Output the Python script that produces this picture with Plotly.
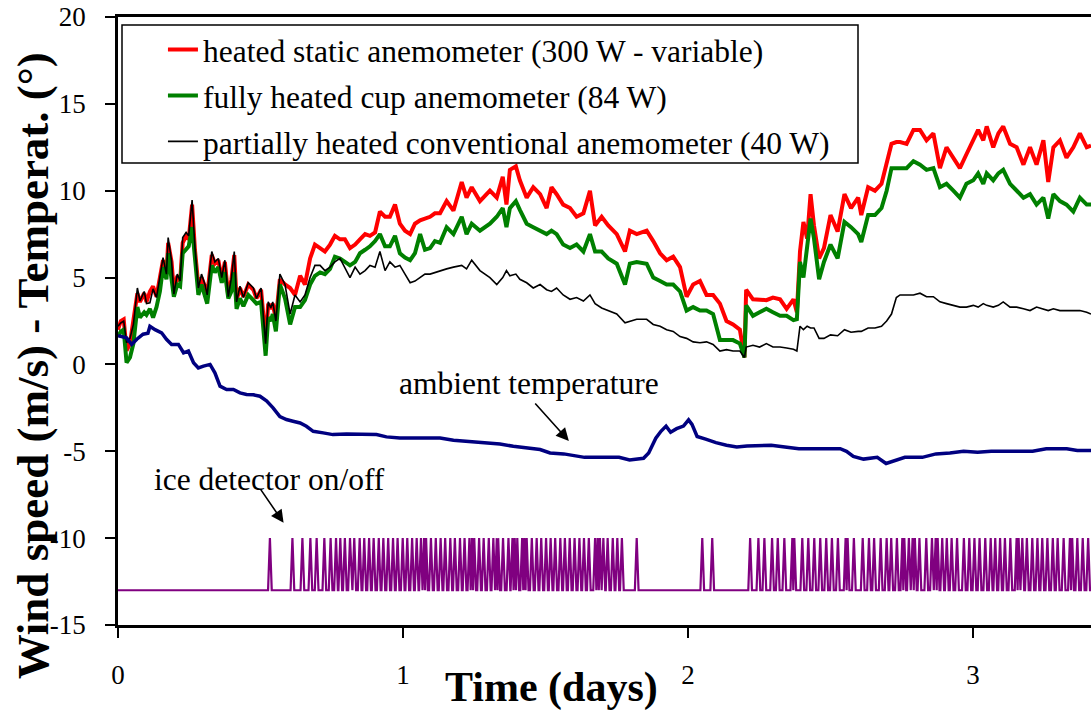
import plotly.graph_objects as go

# ---------------- data ----------------
t_wind = [0.000, 0.010, 0.020, 0.030, 0.042, 0.054, 0.068, 0.077, 0.092, 0.100,
          0.112, 0.123, 0.135, 0.147, 0.158, 0.170, 0.176, 0.188, 0.196, 0.208,
          0.218, 0.227, 0.239, 0.248, 0.260, 0.270, 0.282, 0.293, 0.305, 0.313,
          0.329, 0.340, 0.352, 0.364, 0.375, 0.387, 0.398, 0.408, 0.416, 0.428,
          0.440, 0.457, 0.475, 0.486, 0.502, 0.510, 0.518, 0.527, 0.536, 0.543,
          0.554, 0.568, 0.586, 0.604, 0.621, 0.639, 0.656, 0.674, 0.691, 0.709,
          0.726, 0.744, 0.761, 0.779, 0.796, 0.814, 0.832, 0.849, 0.867, 0.884,
          0.902, 0.919, 0.937, 0.954, 0.972, 0.989, 1.007, 1.025, 1.042, 1.060,
          1.077, 1.095, 1.112, 1.130, 1.153, 1.177, 1.206, 1.223, 1.241, 1.270,
          1.305, 1.329, 1.350, 1.363, 1.375, 1.396, 1.410, 1.434, 1.457, 1.481,
          1.504, 1.521, 1.539, 1.562, 1.586, 1.609, 1.633, 1.656, 1.674, 1.697,
          1.720, 1.750, 1.779, 1.796, 1.820, 1.855, 1.878, 1.902, 1.925, 1.948,
          1.972, 1.995, 2.018, 2.042, 2.065, 2.088, 2.112, 2.135, 2.158, 2.182,
          2.198, 2.204, 2.228, 2.251, 2.275, 2.298, 2.323, 2.346, 2.370, 2.382,
          2.393, 2.405, 2.418, 2.430, 2.442, 2.460, 2.477, 2.500, 2.525, 2.549,
          2.572, 2.597, 2.608, 2.632, 2.656, 2.679, 2.697, 2.714, 2.731, 2.744,
          2.767, 2.791, 2.814, 2.837, 2.861, 2.884, 2.907, 2.931, 2.954, 2.977,
          3.001, 3.018, 3.036, 3.048, 3.071, 3.089, 3.106, 3.130, 3.153, 3.177,
          3.200, 3.223, 3.247, 3.264, 3.282, 3.305, 3.328, 3.352, 3.375, 3.399,
          3.414]

static_300w = [2.0, 2.5, 2.6, 0.8, 1.2, 2.4, 4.1, 3.6, 4.1, 3.6,
               4.2, 4.5, 3.9, 5.0, 6.0, 5.2, 7.0, 5.9, 4.2, 5.1,
               4.8, 7.0, 7.4, 7.2, 9.2, 6.6, 4.5, 5.0, 4.5, 4.0,
               6.3, 5.8, 6.0, 4.9, 5.9, 3.9, 4.9, 6.3, 3.7, 4.4,
               3.9, 4.6, 4.3, 3.8, 4.3, 2.8, 1.3, 3.5, 3.2, 3.5,
               2.6, 4.9, 4.6, 4.4, 4.0, 5.1, 4.6, 6.1, 6.9, 6.7,
               6.5, 6.9, 7.4, 7.2, 7.2, 6.7, 6.9, 7.2, 7.5, 7.4,
               7.6, 8.8, 8.5, 8.5, 9.2, 8.1, 7.7, 7.5, 8.1, 8.3,
               8.4, 8.5, 8.7, 8.7, 9.4, 8.85, 10.5, 9.6, 10.2, 9.4,
               10.0, 9.6, 10.8, 9.2, 11.2, 11.4, 10.6, 9.6, 10.2, 9.8,
               9.0, 10.2, 9.8, 9.2, 9.0, 8.5, 8.7, 10.0, 8.0, 8.5,
               8.0, 7.5, 6.5, 7.7, 7.5, 7.7, 7.1, 6.4, 6.0, 6.2,
               5.6, 3.9, 4.6, 4.8, 4.0, 4.0, 3.5, 2.5, 2.3, 2.0,
               0.4, 4.3, 3.75, 3.75, 3.7, 3.85, 3.75, 3.2, 3.75, 3.0,
               6.5, 8.2, 7.25, 9.8, 8.0, 6.1, 6.7, 8.6, 7.65, 9.8,
               9.0, 9.6, 8.6, 10.2, 10.0, 10.4, 11.7, 12.7, 12.8, 12.8,
               12.7, 13.5, 13.5, 12.9, 13.3, 11.3, 12.5, 11.9, 11.3, 12.1,
               12.9, 13.5, 12.9, 13.7, 12.5, 13.3, 13.7, 12.7, 12.5, 11.5,
               12.5, 11.5, 12.9, 10.5, 12.5, 12.9, 11.9, 12.5, 13.3, 12.5,
               12.6]

cup_84w = [1.6, 1.9, 2.0, 0.1, 0.4, 1.2, 3.3, 2.7, 3.0, 2.85,
           3.2, 2.7, 3.3, 4.2, 5.6, 4.9, 6.4, 5.0, 3.9, 4.6,
           4.5, 6.4, 6.6, 6.8, 7.9, 6.0, 4.0, 4.6, 3.8, 3.5,
           5.7, 5.3, 5.6, 4.7, 5.3, 3.8, 4.2, 5.3, 3.2, 3.8,
           3.35, 4.0, 3.7, 3.5, 3.6, 2.3, 0.5, 2.7, 2.5, 2.9,
           1.9, 4.6, 3.8, 2.3, 3.3, 3.3, 3.7, 4.6, 5.1, 5.3,
           5.2, 5.5, 6.2, 6.1, 5.9, 5.7, 5.9, 6.4, 6.6, 6.8,
           7.1, 7.5, 6.8, 6.8, 7.4, 6.4, 6.15, 6.0, 6.4, 7.5,
           6.6, 6.7, 7.1, 7.0, 7.9, 7.5, 8.5, 7.5, 8.1, 7.7,
           8.1, 8.5, 9.0, 7.9, 9.0, 9.4, 8.9, 8.1, 7.9, 7.7,
           7.5, 7.7, 7.5, 6.9, 6.7, 6.9, 6.5, 7.5, 6.5, 6.5,
           6.1, 5.8, 4.6, 5.8, 5.9, 5.8, 5.0, 4.8, 4.6, 4.6,
           4.2, 3.1, 3.3, 3.1, 3.1, 2.9, 1.4, 1.4, 1.4, 1.2,
           0.4, 3.4, 2.8, 3.0, 3.2, 3.0, 2.8, 2.8, 2.55, 2.6,
           5.9, 5.0, 6.7, 8.4, 7.25, 4.9, 5.9, 6.9, 6.1, 8.2,
           7.9, 7.5, 7.05, 8.6, 8.6, 9.0, 10.0, 11.3, 11.3, 11.3,
           11.3, 11.7, 11.5, 11.2, 11.3, 10.2, 10.4, 10.0, 9.6, 10.4,
           10.6, 11.0, 10.4, 11.0, 10.6, 11.0, 11.2, 10.4, 10.0, 9.6,
           9.8, 9.2, 9.6, 8.4, 9.8, 9.4, 9.2, 8.8, 9.6, 9.2,
           9.2]

conventional_40w = [2.2, 2.4, 2.5, 1.25, 1.5, 2.3, 4.4, 3.65, 4.2, 3.5,
                    3.55, 4.35, 3.85, 5.0, 6.15, 5.2, 7.3, 5.96, 4.05, 5.2,
                    4.8, 7.3, 7.6, 7.4, 9.46, 6.7, 4.4, 5.2, 4.6, 4.0,
                    6.5, 5.9, 6.1, 5.0, 6.0, 3.9, 5.0, 6.5, 3.6, 4.5,
                    3.85, 4.7, 4.4, 3.8, 4.4, 2.8, 1.2, 3.6, 3.25, 3.6,
                    2.5, 5.2, 4.6, 2.9, 4.0, 3.6, 4.0, 5.0, 5.7, 5.7,
                    5.4, 5.6, 5.9, 6.1, 5.6, 5.0, 5.6, 5.2, 5.4, 5.7,
                    5.6, 6.5, 5.4, 5.9, 5.6, 5.7, 5.2, 4.7, 4.8, 5.0,
                    5.2, 5.2, 5.3, 5.4, 5.5, 5.6, 5.7, 5.5, 6.0, 5.4,
                    5.0, 4.6, 5.0, 5.4, 5.1, 5.2, 4.9, 4.7, 4.4, 4.6,
                    4.3, 4.2, 4.4, 4.0, 3.75, 3.85, 3.65, 4.0, 3.5, 3.25,
                    3.1, 2.9, 2.4, 2.5, 2.6, 2.6, 2.3, 2.2, 2.0, 1.9,
                    1.6, 1.5, 1.3, 1.25, 1.3, 1.15, 0.77, 0.85, 0.77, 0.77,
                    0.4, 1.0, 1.1, 1.0, 1.2, 1.0, 1.0, 0.95, 0.87, 0.77,
                    2.2, 2.0, 2.2, 2.1, 2.1, 1.5, 1.5, 1.7, 1.65, 2.0,
                    1.85, 1.9, 1.9, 2.1, 2.1, 2.2, 2.5, 2.9, 3.85, 4.0,
                    4.0, 4.0, 4.1, 3.9, 3.9, 3.6, 3.5, 3.4, 3.3, 3.3,
                    3.4, 3.3, 3.5, 3.4, 3.3, 3.4, 3.6, 3.3, 3.3, 3.2,
                    3.1, 3.3, 3.2, 3.1, 3.2, 3.1, 3.1, 3.1, 3.1, 3.0,
                    2.9]

t_temp = [0.000, 0.007, 0.030, 0.048, 0.066, 0.088, 0.105, 0.112, 0.130, 0.153,
          0.170, 0.188, 0.212, 0.230, 0.247, 0.265, 0.282, 0.300, 0.323, 0.340,
          0.358, 0.381, 0.405, 0.428, 0.451, 0.475, 0.498, 0.521, 0.544, 0.568,
          0.591, 0.614, 0.639, 0.661, 0.685, 0.720, 0.754, 0.802, 0.872, 0.907,
          0.942, 0.989, 1.048, 1.130, 1.177, 1.223, 1.282, 1.340, 1.387, 1.434,
          1.481, 1.516, 1.564, 1.637, 1.697, 1.758, 1.795, 1.844, 1.862, 1.887,
          1.905, 1.923, 1.939, 1.960, 1.984, 2.002, 2.014, 2.032, 2.062, 2.098,
          2.135, 2.171, 2.207, 2.243, 2.292, 2.340, 2.389, 2.462, 2.534, 2.556,
          2.580, 2.616, 2.664, 2.695, 2.725, 2.761, 2.822, 2.870, 2.919, 2.967,
          3.016, 3.064, 3.124, 3.209, 3.257, 3.329, 3.366, 3.414]

ambient_temp = [1.65, 1.63, 1.53, 1.15, 1.45, 1.74, 1.8, 2.2, 2.0, 1.82,
                1.45, 1.15, 1.15, 0.67, 0.77, 0.1, -0.2, -0.1, 0.0, -0.48,
                -1.25, -1.44, -1.44, -1.64, -1.73, -1.75, -1.83, -2.1, -2.5, -3.0,
                -3.17, -3.27, -3.37, -3.56, -3.85, -3.94, -4.04, -4.0, -4.04, -4.04,
                -4.17, -4.23, -4.23, -4.23, -4.37, -4.42, -4.52, -4.58, -4.71, -4.81,
                -4.9, -5.1, -5.15, -5.35, -5.35, -5.35, -5.5, -5.4, -5.1, -4.25,
                -3.85, -3.55, -3.9, -3.7, -3.55, -3.19, -3.45, -4.15, -4.3, -4.5,
                -4.65, -4.75, -4.7, -4.68, -4.65, -4.75, -4.85, -4.85, -4.85, -5.0,
                -5.3, -5.45, -5.35, -5.7, -5.55, -5.35, -5.35, -5.15, -5.1, -5.0,
                -5.05, -5.0, -5.0, -5.0, -4.85, -4.85, -4.95, -4.95]

ice_on_times = [0.533, 0.612, 0.647, 0.675, 0.697, 0.724, 0.746, 0.765, 0.780, 0.796,
                0.814, 0.829, 0.848, 0.864, 0.881, 0.897, 0.915, 0.931, 0.948, 0.965,
                0.981, 0.999, 1.015, 1.032, 1.048, 1.063, 1.074, 1.081, 1.098, 1.115,
                1.132, 1.148, 1.166, 1.182, 1.200, 1.216, 1.233, 1.242, 1.250, 1.267,
                1.283, 1.301, 1.317, 1.329, 1.334, 1.351, 1.370, 1.384, 1.392, 1.401,
                1.418, 1.426, 1.434, 1.452, 1.469, 1.485, 1.502, 1.518, 1.534, 1.552,
                1.568, 1.585, 1.602, 1.619, 1.635, 1.652, 1.674, 1.683, 1.691, 1.703,
                1.718, 1.736, 1.752, 1.768, 1.820,
                2.050, 2.085,
                2.218, 2.247, 2.268, 2.295, 2.315, 2.338, 2.366, 2.373, 2.401, 2.422,
                2.443, 2.464, 2.485, 2.505, 2.526, 2.553, 2.560, 2.582, 2.613, 2.635,
                2.653, 2.676, 2.697, 2.713, 2.733, 2.752, 2.759, 2.775, 2.788, 2.796,
                2.812, 2.836, 2.856, 2.869, 2.876, 2.892, 2.908, 2.925, 2.944, 2.968,
                2.987, 3.005, 3.023, 3.043, 3.062, 3.078, 3.095, 3.112, 3.131, 3.153,
                3.160, 3.173, 3.189, 3.208, 3.226, 3.243, 3.261, 3.280, 3.297, 3.318,
                3.340, 3.348, 3.366, 3.385, 3.404]
ice_off_level = -13
ice_on_level = -10
ice_pulse_halfwidth = 0.0065   # one 10-min sample either side

x_tick_vals = [0, 1, 2, 3]
y_tick_vals = [20, 15, 10, 5, 0, -5, -10, -15]
x_range = [0, 3.414]
y_range = [-15, 20]

legend_names = ["heated static anemometer (300 W - variable)",
                "fully heated cup anemometer (84 W)",
                "partially heated conventional anemometer (40 W)"]

# ---------------- build ice detector on/off series ----------------
ice_x = [x_range[0]]
ice_y = [ice_off_level]
n = len(ice_on_times)
for i, t in enumerate(ice_on_times):
    prev_t = ice_on_times[i - 1] if i > 0 else None
    next_t = ice_on_times[i + 1] if i + 1 < n else None
    if prev_t is None or t - prev_t >= 2 * ice_pulse_halfwidth:
        ice_x.append(t - ice_pulse_halfwidth)
        ice_y.append(ice_off_level)
    ice_x.append(t)
    ice_y.append(ice_on_level)
    if next_t is None or next_t - t >= 2 * ice_pulse_halfwidth:
        ice_x.append(t + ice_pulse_halfwidth)
        ice_y.append(ice_off_level)
    else:
        ice_x.append((t + next_t) / 2)
        ice_y.append(ice_off_level)
ice_x.append(x_range[1])
ice_y.append(ice_off_level)

SERIF = "Liberation Serif, Times New Roman, serif"

fig = go.Figure()
fig.add_trace(go.Scatter(x=t_wind, y=static_300w, mode="lines", name=legend_names[0],
                         line=dict(color="#FF0000", width=4), legendgroup="a"))
fig.add_trace(go.Scatter(x=t_wind, y=cup_84w, mode="lines", name=legend_names[1],
                         line=dict(color="#008000", width=4), legendgroup="b"))
fig.add_trace(go.Scatter(x=t_wind, y=conventional_40w, mode="lines", name=legend_names[2],
                         line=dict(color="#000000", width=1.6), legendgroup="c"))
fig.add_trace(go.Scatter(x=t_temp, y=ambient_temp, mode="lines", name="ambient temperature",
                         line=dict(color="#000080", width=3.5), showlegend=False))
fig.add_trace(go.Scatter(x=ice_x, y=ice_y, mode="lines", name="ice detector on/off",
                         line=dict(color="#800080", width=2.2), showlegend=False))

# helper axis for the inner half of the crossing x ticks
fig.update_layout(
    xaxis2=dict(overlaying="x", anchor="y", side="bottom", range=x_range,
                tickmode="array", tickvals=x_tick_vals, ticks="inside", ticklen=10,
                tickwidth=1.5, tickcolor="black", showticklabels=False,
                showline=False, showgrid=False, zeroline=False),
)

fig.update_layout(
    width=1091, height=711,
    margin=dict(l=118, r=0, t=17, b=86),
    paper_bgcolor="white", plot_bgcolor="white",
    font=dict(family=SERIF, color="black", size=26),
    showlegend=True,
    legend=dict(x=0.0462, y=0.991, xanchor="left", yanchor="top",
                bgcolor="rgba(0,0,0,0)", borderwidth=0,
                font=dict(family=SERIF, size=31.5, color="black"),
                tracegroupgap=2, itemwidth=30),
    xaxis=dict(range=x_range, tickmode="array", tickvals=x_tick_vals,
               ticktext=[str(v) for v in x_tick_vals],
               ticks="outside", ticklen=10, tickwidth=1.5, tickcolor="black",
               showline=True, linewidth=2.5, linecolor="black", mirror=True,
               showgrid=False, zeroline=False,
               tickfont=dict(family=SERIF, size=27, color="black"),
               ticklabelstandoff=14),
    yaxis=dict(range=y_range, tickmode="array", tickvals=y_tick_vals,
               ticktext=[str(v) for v in y_tick_vals],
               ticks="outside", ticklen=10, tickwidth=1.5, tickcolor="black",
               showline=True, linewidth=2.5, linecolor="black",
               showgrid=False, zeroline=False,
               tickfont=dict(family=SERIF, size=27, color="black"),
               ticklabelstandoff=14),
    shapes=[dict(type="rect", xref="paper", yref="paper",
                 x0=(122 - 118) / 973, x1=(858 - 118) / 973,
                 y0=(625 - 163) / 608, y1=(625 - 25) / 608,
                 line=dict(color="black", width=1.5), fillcolor="white", layer="above")],
    annotations=[
        dict(text="<b>Wind speed (m/s) - Temperat. (°)</b>", xref="paper", yref="paper",
             x=-0.0874, y=0.427, xanchor="center", yanchor="middle", textangle=-90,
             showarrow=False, font=dict(family=SERIF, size=45, color="black")),
        dict(text="<b>Time (days)</b>", xref="paper", yref="paper",
             x=0.446, y=-0.1036, xanchor="center", yanchor="middle",
             showarrow=False, font=dict(family=SERIF, size=42, color="black")),
        dict(text="ambient temperature", xref="x", yref="y", x=0.978, y=-1.07,
             xanchor="left", yanchor="middle", showarrow=False,
             font=dict(family=SERIF, size=31.5, color="black")),
        dict(text="", xref="x", yref="y", x=1.582, y=-4.41, ax=-35, ay=-39,
             showarrow=True, arrowhead=2, arrowsize=1.6, arrowwidth=1.6, arrowcolor="black"),
        dict(text="ice detector on/off", xref="x", yref="y", x=0.118, y=-6.65,
             xanchor="left", yanchor="middle", showarrow=False,
             font=dict(family=SERIF, size=31.5, color="black")),
        dict(text="", xref="x", yref="y", x=0.581, y=-9.12, ax=-24, ay=-35,
             showarrow=True, arrowhead=2, arrowsize=1.6, arrowwidth=1.6, arrowcolor="black"),
    ],
)

fig.write_html("out.html", config={"displayModeBar": False},
               post_script="document.body.style.margin='0';document.body.style.padding='0';")
